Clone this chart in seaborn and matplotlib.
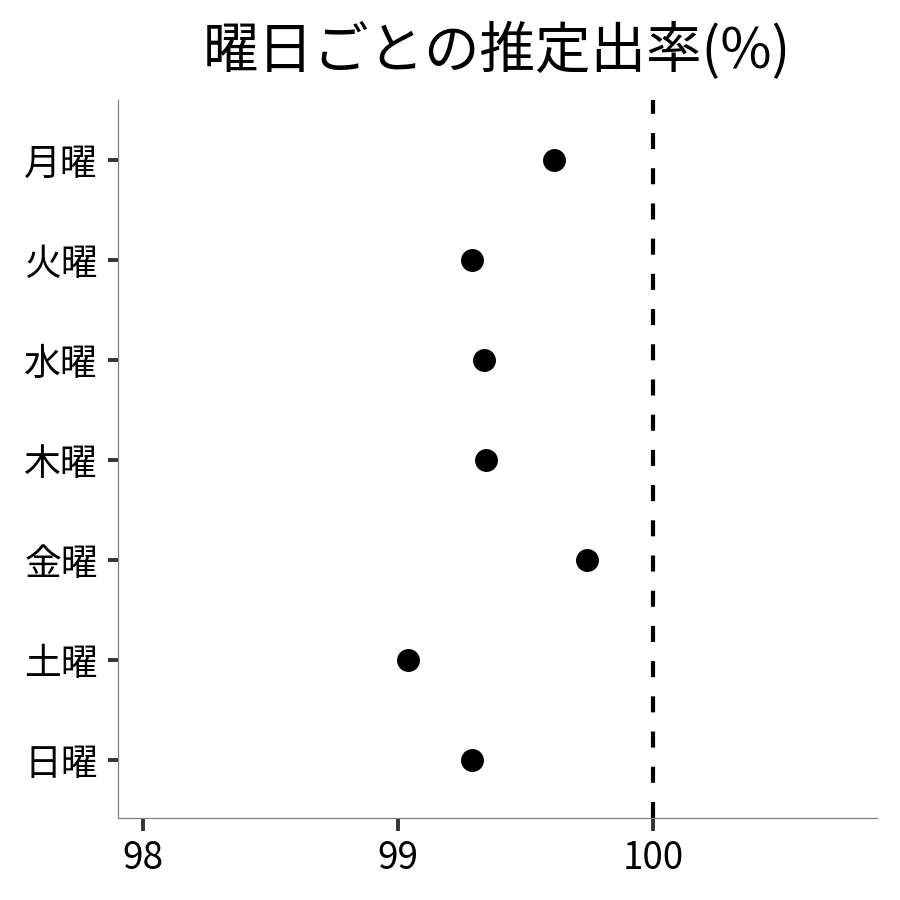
import matplotlib
matplotlib.use("Agg")
import matplotlib.pyplot as plt
import seaborn as sns
import pandas as pd

# ======== DATA ========
days = ["月曜", "火曜", "水曜", "木曜", "金曜", "土曜", "日曜"]
rates = [99.61, 99.29, 99.335, 99.345, 99.74, 99.04, 99.29]
x_ticks = [98, 99, 100]
ref_value = 100

df = pd.DataFrame({"day": days, "rate": rates})

# ======== STYLE ========
sns.set_style("white")
plt.rcParams["font.family"] = ["Noto Sans CJK JP", "DejaVu Sans"]
plt.rcParams["text.color"] = "black"

fig = plt.figure(figsize=(9, 9), dpi=100)
ax = fig.add_axes([0.131, 0.091, 0.843, 0.798])

sns.stripplot(data=df, x="rate", y="day", order=days, jitter=False,
              color="black", size=16.5, linewidth=0, ax=ax)

ax.axvline(ref_value, color="black", linewidth=3.0, linestyle=(0, (3.85, 4.6)))

ax.set_xlim(97.902, 100.875)
ax.set_ylim(6.58, -0.6)
ax.set_xticks(x_ticks)
ax.set_xticklabels([str(t) for t in x_ticks])
ax.set_xlabel("")
ax.set_ylabel("")
ax.set_title("曜日ごとの推定出率(%)", fontsize=40, pad=23, color="black")

for side in ["top", "right"]:
    ax.spines[side].set_visible(False)
for side in ["left", "bottom"]:
    ax.spines[side].set_color("#7f7f7f")
    ax.spines[side].set_linewidth(0.9)

ax.tick_params(axis="both", labelsize=26.5, labelcolor="black")
ax.tick_params(axis="x", bottom=True, length=9, width=2.8, color="#333333", pad=6)
ax.tick_params(axis="y", left=True, length=7.5, width=2.8, color="#333333", pad=7)
ax.grid(False)

plt.savefig("out.png", dpi=100)
plt.close()
